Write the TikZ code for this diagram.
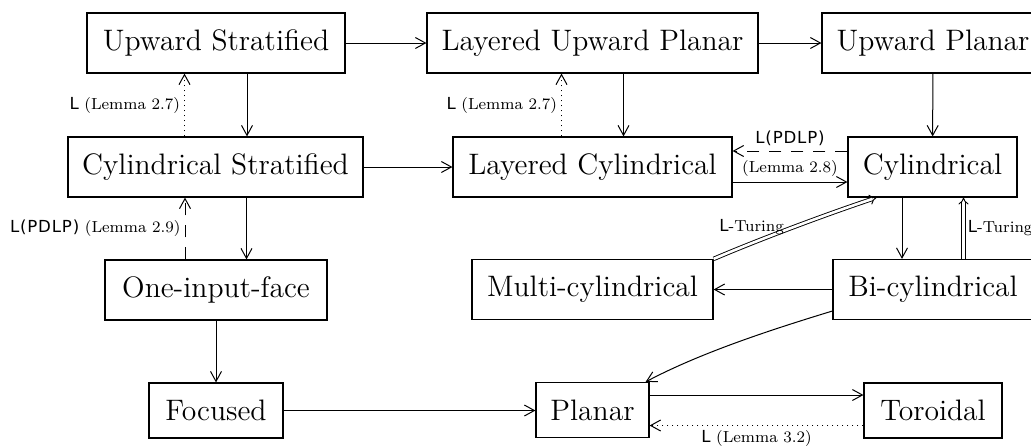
\documentclass[tikz,border=0pt]{standalone}
\usepackage{fontspec}
\newfontfamily\lsf[LetterSpace=5]{DejaVu Sans}
\usetikzlibrary{arrows.meta}
\newcommand{\Lsf}[1]{{\lsf\fontsize{8.3}{9}\selectfont #1}}
\begin{document}
\begin{tikzpicture}[x=0.5pt,y=-0.5pt,
  box/.style={draw, line width=0.6pt, inner sep=0pt, minimum height=30pt, font=\fontsize{14.8}{17}\selectfont},
  arr/.style={line width=0.5pt, -{Straight Barb[length=5pt,width=5.5pt]}},
  lab/.style={font=\fontsize{8}{9}\selectfont, inner sep=2pt},
  dbl/.style={double, double distance=1.3pt, line width=0.45pt, -{Implies}},
  dsh/.style={dash pattern=on 6pt off 5pt}]
\useasboundingbox (0,0) rectangle (1031,446);
% nodes
\node[box, minimum width=129pt] (us) at (216,43) {Upward Stratified};
\node[box, minimum width=165.5pt] (lup) at (592.5,43) {Layered Upward Planar};
\node[box, minimum width=111pt] (up) at (933,43) {Upward Planar};
\node[box, minimum width=147.5pt] (cs) at (215.5,167) {Cylindrical Stratified};
\node[box, minimum width=139.5pt] (lc) at (592.5,167) {Layered Cylindrical};
\node[box, minimum width=84.5pt] (cyl) at (932.5,167) {Cylindrical};
\node[box, minimum width=111pt] (oif) at (216,290) {One-input-face};
\node[box, minimum width=120.5pt] (mc) at (592.5,289.5) {Multi-cylindrical};
\node[box, minimum width=100pt] (bc) at (933,289.5) {Bi-cylindrical};
\node[box, minimum width=67pt, minimum height=27.5pt] (foc) at (216,410.5) {Focused};
\node[box, minimum width=56.5pt, minimum height=27.5pt] (pl) at (592.5,410) {Planar};
\node[box, minimum width=69pt, minimum height=27.5pt] (tor) at (933,410.5) {Toroidal};
% helper coordinates
\coordinate (usR) at ([xshift=15.5pt]us.south);
\coordinate (csL) at ([xshift=-15.5pt]cs.north);
\coordinate (csR) at ([xshift=15.5pt]cs.south);
\coordinate (oifL) at ([xshift=-15.5pt]oif.north);
\coordinate (lupR) at ([xshift=15.5pt]lup.south);
\coordinate (lcL) at ([xshift=-15.5pt]lc.north);
\coordinate (lcE) at ([yshift=-7.5pt]lc.east);
\coordinate (cylW) at ([yshift=8pt]cyl.west);
\coordinate (cylL) at ([xshift=-15.25pt]cyl.south);
\coordinate (bcR) at ([xshift=15.25pt]bc.north);
\coordinate (cylSW) at ([xshift=14.5pt]cyl.south west);
\coordinate (bcW) at ([yshift=-10.75pt]bc.west);
\coordinate (plNE) at ([xshift=-2pt]pl.north east);
\coordinate (plE) at ([yshift=7.5pt]pl.east);
\coordinate (torW) at ([yshift=-7.5pt]tor.west);
\coordinate (focE) at (foc.east);
% edges
\draw[arr] (us) -- (lup);
\draw[arr] (lup) -- (up);
\draw[arr] (usR) -- (usR |- cs.north);
\draw[arr, dotted] (csL) -- (csL |- us.south) node[midway, left, lab] {\Lsf{L} (Lemma 2.7)};
\draw[arr] (lupR) -- (lupR |- lc.north);
\draw[arr, dotted] (lcL) -- (lcL |- lup.south) node[midway, left, lab] {\Lsf{L} (Lemma 2.7)};
\draw[arr] (up) -- (cyl);
\draw[arr] (cs) -- (lc);
\draw[arr] (lcE) -- (lcE -| cyl.west);
\draw[arr, dsh] (cylW) -- (cylW -| lc.east)
  node[midway, above, lab, inner sep=2.5pt] {\Lsf{L(PDLP)}}
  node[midway, below, lab, inner sep=4.5pt] {(Lemma 2.8)};
\draw[arr] (csR) -- (csR |- oif.north);
\draw[arr, dsh] (oifL) -- (oifL |- cs.south) node[midway, left, lab] {\Lsf{L(PDLP)} (Lemma 2.9)};
\draw[arr] (oif) -- (foc);
\draw[arr] (focE) -- (focE -| pl.west);
\draw[arr] (cylL) -- (cylL |- bc.north);
\draw[dbl] (bcR) -- (bcR |- cyl.south) node[midway, right, lab] {\Lsf{L}-Turing};
\draw[arr] (bc) -- (mc);
\draw[dbl] (mc.north east) .. controls (760,239) and (830,213) .. (cylSW)
  node[pos=0.45, anchor=east, lab, inner sep=1pt, yshift=1.5pt] {\Lsf{L}-Turing};
\draw[arr] (bcW) .. controls (770,330) and (700,353) .. (plNE);
\draw[arr] (plE) -- (plE -| tor.west);
\draw[arr, dotted] (torW) -- (torW -| pl.east) node[midway, below, lab, inner sep=2pt] {\Lsf{L} (Lemma 3.2)};
\end{tikzpicture}
\end{document}
